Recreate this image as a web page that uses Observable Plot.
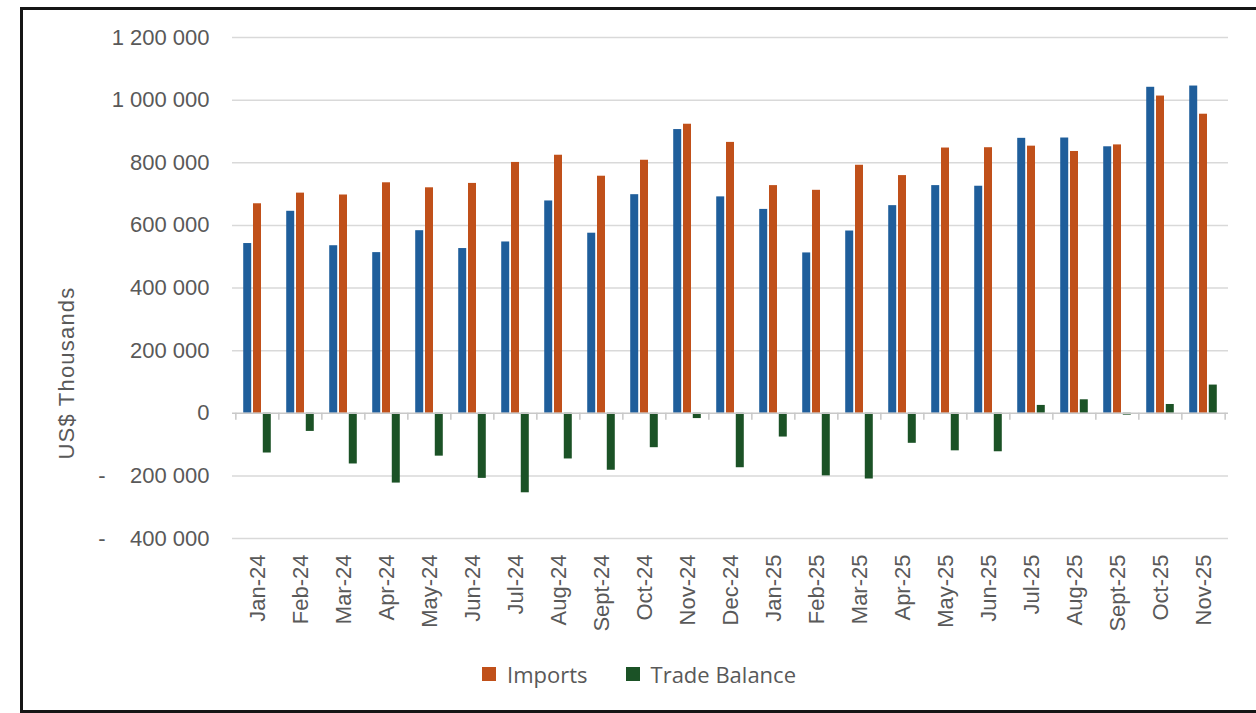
<!DOCTYPE html>
<html>
<head>
<meta charset="utf-8">
<script src="https://cdn.jsdelivr.net/npm/d3@7"></script>
<script src="https://cdn.jsdelivr.net/npm/@observablehq/plot@0.6"></script>
<style>
  html, body { margin: 0; padding: 0; background: #fff; }
  body { width: 1256px; height: 713px; position: relative; overflow: hidden; font-family: "Liberation Sans", Arial, sans-serif; }
  #frame { position: absolute; left: 20px; top: 7px; width: 1300px; height: 706px; box-sizing: border-box; border: 3px solid #151515; }
  #chart { position: absolute; left: 0; top: 0; }
  #ytitle { position: absolute; left: 67px; top: 373px; transform: translate(-50%, -50%) rotate(-90deg); white-space: nowrap;
            font-size: 22px; letter-spacing: 1.2px; color: #595959; }
  #legend { position: absolute; left: 482px; top: 660px; height: 28px; display: flex; align-items: center;
            font-family: "Open Sans", sans-serif; font-size: 22px; color: #595959; }
  .item { display: flex; align-items: center; margin-right: 38px; }
  .sw { width: 14px; height: 14px; margin-right: 11px; }
</style>
</head>
<body>
<div id="frame"></div>
<div id="chart"></div>
<div id="ytitle">US$ Thousands</div>
<div id="legend"></div>
<script>
const months = ["Jan-24","Feb-24","Mar-24","Apr-24","May-24","Jun-24","Jul-24","Aug-24","Sept-24","Oct-24","Nov-24","Dec-24",
                "Jan-25","Feb-25","Mar-25","Apr-25","May-25","Jun-25","Jul-25","Aug-25","Sept-25","Oct-25","Nov-25"];
const exportsK = [542, 645, 535, 513, 583, 526, 547, 678, 575, 698, 906, 691,
                  651, 512, 582, 663, 727, 725, 878, 879, 851, 1041, 1045];
const importsK = [669, 703, 697, 736, 720, 734, 801, 824, 757, 808, 923, 865,
                  727, 712, 792, 759, 847, 848, 853, 836, 857, 1013, 955];
const balanceK = [-127, -58, -162, -223, -137, -208, -254, -146, -182, -110, -17, -174,
                  -76, -200, -210, -96, -120, -123, 25, 43, -6, 28, 90];
const yTicks = [-400000, -200000, 0, 200000, 400000, 600000, 800000, 1000000, 1200000];
const legendItems = [["Imports", "#c0501a"], ["Trade Balance", "#1b5226"]];

const colors = {Exports: "#1f5e9b", Imports: "#c0501a", "Trade Balance": "#1b5226"};
const data = months.flatMap((m, i) => [
  {month: m, series: "Exports", value: exportsK[i] * 1000},
  {month: m, series: "Imports", value: importsK[i] * 1000},
  {month: m, series: "Trade Balance", value: balanceK[i] * 1000}
]);

const W = 1256, H = 640, mL = 232, mR = 28, mT = 37, mB = 102;
const step = (W - mL - mR) / months.length;
const offset = step * 0.226;
const pin = 0.825;

const loc = d3.formatLocale({decimal: ".", thousands: " ", grouping: [3], currency: ["", ""]});
const fmt = loc.format(",");
const tickFmt = v => v < 0 ? "-\u00a0\u00a0\u00a0\u00a0" + fmt(-v) : fmt(v);

const bar = (s, dx) => Plot.barY(data.filter(d => d.series === s), {
  x: "month", y: "value", fill: colors[s], dx
});

const chart = Plot.plot({
  width: W, height: H,
  marginLeft: mL, marginRight: mR, marginTop: mT, marginBottom: mB,
  style: {fontFamily: "'Liberation Sans', Arial, sans-serif", fontSize: "22px", color: "#595959", background: "transparent"},
  x: {domain: months, paddingInner: pin, paddingOuter: pin / 2, align: 0.5, label: null},
  y: {domain: [-400000, 1200000], label: null},
  marks: [
    Plot.ruleY(yTicks.filter(t => t !== 0), {y: d => d, stroke: "#d9d9d9", strokeWidth: 1.5}),
    bar("Exports", -offset),
    bar("Imports", 0),
    bar("Trade Balance", offset),
    Plot.ruleY([0], {stroke: "#c8c8c8", strokeWidth: 1.5}),
    Plot.ruleX(months, {x: d => d, y1: 0, y2: 0, dx: -step / 2, insetBottom: -7, stroke: "#c8c8c8", strokeWidth: 1.5}),
    Plot.ruleX(months.slice(-1), {x: d => d, y1: 0, y2: 0, dx: step / 2, insetBottom: -7, stroke: "#c8c8c8", strokeWidth: 1.5}),
    Plot.axisY({ticks: yTicks, tickSize: 0, tickPadding: 23, tickFormat: tickFmt, label: null, fill: "#595959"}),
    Plot.axisX({tickSize: 0, tickPadding: 16, tickRotate: -90, label: null, fill: "#595959"})
  ]
});
document.getElementById("chart").appendChild(chart);

const lg = document.getElementById("legend");
for (const [name, c] of legendItems) {
  const it = document.createElement("div");
  it.className = "item";
  const sw = document.createElement("div");
  sw.className = "sw";
  sw.style.background = c;
  const t = document.createElement("span");
  t.textContent = name;
  it.appendChild(sw);
  it.appendChild(t);
  lg.appendChild(it);
}
</script>
</body>
</html>
